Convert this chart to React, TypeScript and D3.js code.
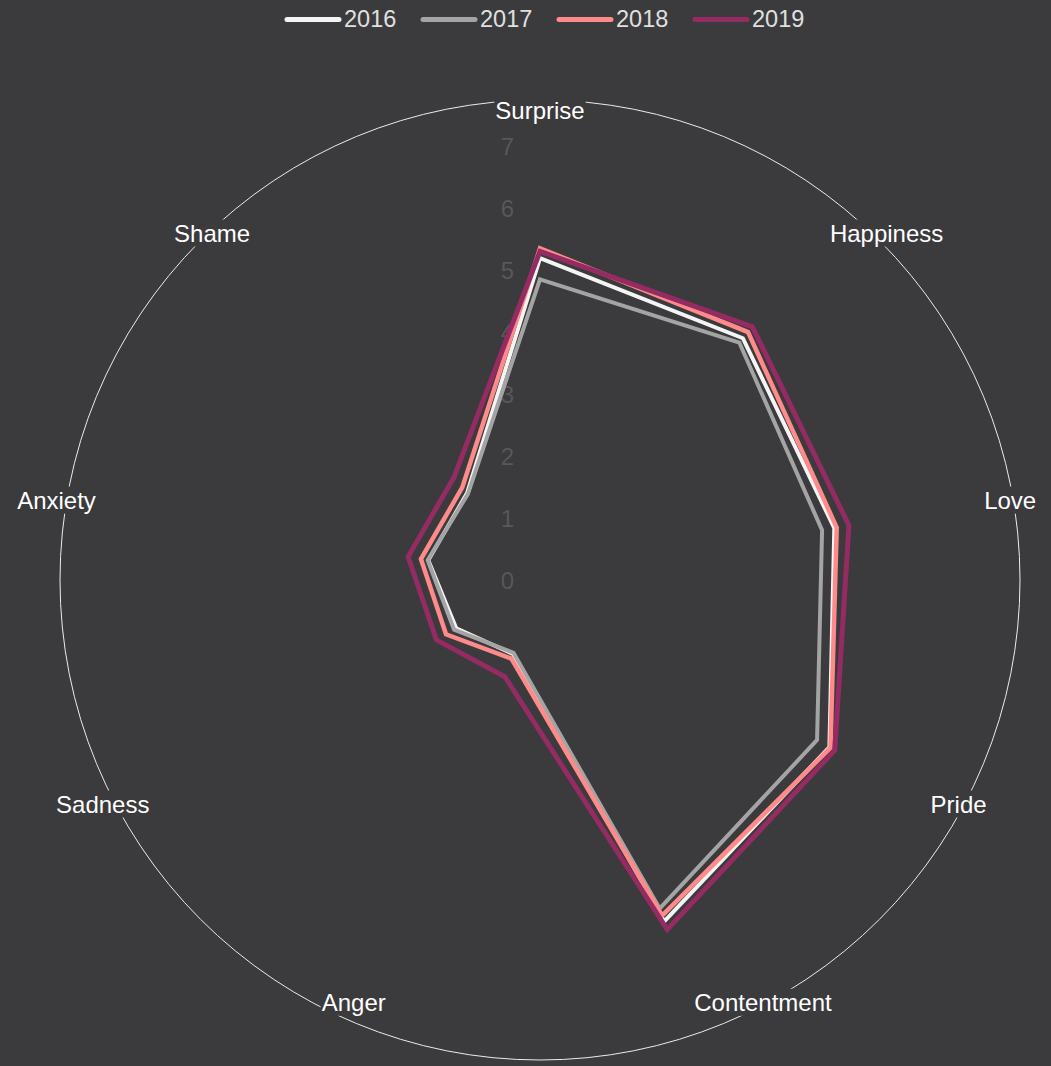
import React, { useEffect, useRef } from "react";
import * as d3 from "d3";

const categories = ["Surprise", "Happiness", "Love", "Pride", "Contentment", "Anger", "Sadness", "Anxiety", "Shame"];
const years = ["2016", "2017", "2018", "2019"];
const values2016 = [5.19, 5.09, 4.82, 5.39, 5.86, 1.27, 1.56, 1.83, 1.83];
const values2017 = [4.85, 5.0, 4.62, 5.16, 5.64, 1.25, 1.6, 1.84, 1.81];
const values2018 = [5.35, 5.22, 4.86, 5.41, 5.76, 1.35, 1.75, 1.95, 1.95];
const values2019 = [5.3, 5.33, 5.06, 5.49, 6.0, 1.66, 1.93, 2.16, 2.16];
const seriesValues = [values2016, values2017, values2018, values2019];
const seriesColors = ["#f4f4f4", "#a4a4a4", "#ff8a8a", "#942b62"];
const seriesWidths = [4, 4, 4.5, 5];
const tickValues = [0, 1, 2, 3, 4, 5, 6, 7];

const W = 1051;
const H = 1066;
const BG = "#3b3a3c";
const FONT = "'Liberation Sans', Arial, Helvetica, sans-serif";
const FS = 24;

export default function App() {
  const ref = useRef<SVGSVGElement | null>(null);

  useEffect(() => {
    const svg = d3.select(ref.current);
    svg.selectAll("*").remove();
    const cx = 540;
    const cy = 580;
    const R = 480;
    const r = d3.scaleLinear().domain([0, R / 62]).range([0, R]);
    const angle = d3
      .scalePoint<string>()
      .domain(categories)
      .range([0, 2 * Math.PI * (1 - 1 / categories.length)]);

    svg.append("rect").attr("width", W).attr("height", H).attr("fill", BG);

    const g = svg.append("g").attr("transform", `translate(${cx},${cy})`);

    g.append("circle").attr("r", R).attr("fill", "none").attr("stroke", "#ececec").attr("stroke-width", 1);

    g.selectAll("text.tick")
      .data(tickValues)
      .join("text")
      .attr("class", "tick")
      .attr("x", -26)
      .attr("y", (d) => -r(d))
      .attr("text-anchor", "end")
      .attr("dominant-baseline", "central")
      .attr("font-family", FONT)
      .attr("font-size", FS)
      .attr("fill", "#58575a")
      .text((d) => String(d));

    const line = d3
      .lineRadial<number>()
      .angle((_, i) => angle(categories[i]) as number)
      .radius((d) => r(d))
      .curve(d3.curveLinearClosed);

    seriesValues.forEach((vals, i) => {
      g.append("path")
        .attr("d", line(vals) as string)
        .attr("fill", "none")
        .attr("stroke", seriesColors[i])
        .attr("stroke-width", seriesWidths[i])
        .attr("stroke-linejoin", "miter");
    });

    const LR = 451;
    categories.forEach((c) => {
      const a = angle(c) as number;
      const s = Math.sin(a);
      const co = Math.cos(a);
      const x = LR * s;
      let y = -LR * co - 1.5;
      let anchor = "middle";
      if (s > 0.1) anchor = "start";
      else if (s < -0.1) anchor = "end";
      else y = -LR * co - 19;
      const lg = g.append("g");
      const t = lg
        .append("text")
        .attr("x", x)
        .attr("y", y)
        .attr("text-anchor", anchor)
        .attr("dominant-baseline", "central")
        .attr("font-family", FONT)
        .attr("font-size", FS)
        .attr("fill", "#ffffff")
        .text(c);
      const bb = (t.node() as SVGTextElement).getBBox();
      lg.insert("rect", "text")
        .attr("x", bb.x - 1)
        .attr("y", bb.y)
        .attr("width", bb.width + 2)
        .attr("height", bb.height)
        .attr("fill", BG);
    });

    const leg = svg.append("g");
    years.forEach((yr, i) => {
      const x0 = 285 + i * 136;
      leg
        .append("line")
        .attr("x1", x0 + 2)
        .attr("x2", x0 + 54)
        .attr("y1", 19.5)
        .attr("y2", 19.5)
        .attr("stroke", seriesColors[i])
        .attr("stroke-width", 5)
        .attr("stroke-linecap", "round");
      leg
        .append("text")
        .attr("x", x0 + 59)
        .attr("y", 19)
        .attr("dominant-baseline", "central")
        .attr("font-family", FONT)
        .attr("font-size", 23.5)
        .attr("fill", "#e0e0e0")
        .text(yr);
    });
  }, []);

  return (
    <div>
      <style>{`body{margin:0;background:${BG};}`}</style>
      <svg ref={ref} width={W} height={H} style={{ display: "block" }} />
    </div>
  );
}
